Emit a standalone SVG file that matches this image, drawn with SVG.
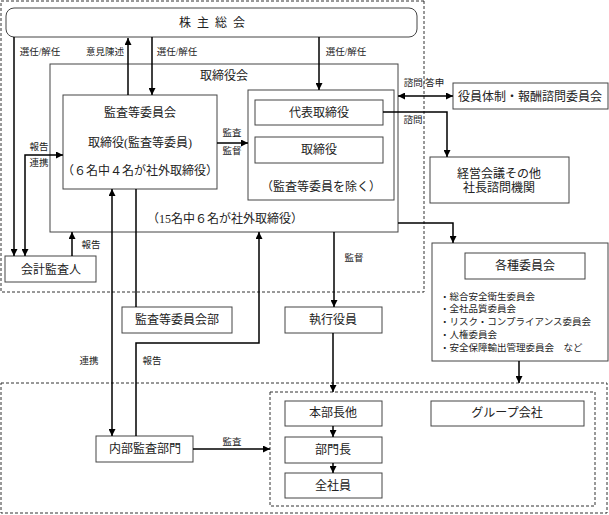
<svg xmlns="http://www.w3.org/2000/svg" width="609" height="515" viewBox="0 0 609 515">
<defs>
<style>
.box{fill:#fff;stroke:#444;stroke-width:1}
.frame{fill:none;stroke:#444;stroke-width:1}
.dash{fill:none;stroke:#333;stroke-width:1;stroke-dasharray:3 2}
.t{font-family:"Liberation Serif","Noto Sans CJK JP",serif;font-size:12px;fill:#222;text-anchor:middle;dominant-baseline:central}
.s{font-family:"Liberation Serif","Noto Sans CJK JP",serif;font-size:9.5px;fill:#222;text-anchor:middle;dominant-baseline:central}
.l{font-family:"Liberation Serif","Noto Sans CJK JP",serif;font-size:9.5px;fill:#222;dominant-baseline:central}
.c{fill:none;stroke:#000;stroke-width:1.5}
</style>
<marker id="a" viewBox="0 0 8 8" refX="8" refY="4" markerWidth="7" markerHeight="7" markerUnits="userSpaceOnUse" orient="auto-start-reverse">
<path d="M0,0 L8,4 L0,8 z" fill="#000"/>
</marker>
</defs>
<rect width="609" height="515" fill="#fff"/>

<!-- dashed frames -->
<path class="dash" d="M424,1 H1 V292 H424 Z"/>
<rect class="dash" x="1" y="383" width="606" height="130"/>
<rect class="dash" x="270" y="392" width="325" height="114"/>

<g id="shareholders">
<rect class="box" x="6" y="8" width="411" height="29" rx="8"/>
<text class="t" x="215" y="23" letter-spacing="6">株主総会</text>
</g>
<g id="board">
<rect class="frame" x="50" y="64" width="348" height="168"/>
<text class="t" x="224" y="76">取締役会</text>
<text class="t" x="225" y="219">（15名中６名が社外取締役）</text>
</g>
<g id="audit-committee">
<rect class="box" x="63" y="95" width="154" height="94"/>
<text class="t" x="140" y="113">監査等委員会</text>
<text class="t" x="140" y="143">取締役(監査等委員)</text>
<text class="t" x="140" y="171" font-size="11.5">（６名中４名が社外取締役）</text>
</g>
<g id="directors">
<rect class="box" x="248" y="90" width="146" height="110"/>
<text class="t" x="321" y="187">（監査等委員を除く）</text>
</g>
<g id="representative">
<rect class="box" x="255" y="100" width="128" height="25"/>
<text class="t" x="319" y="113">代表取締役</text>
</g>
<g id="director">
<rect class="box" x="255" y="137" width="128" height="26"/>
<text class="t" x="319" y="150">取締役</text>
</g>
<g id="nomination">
<rect class="box" x="453" y="83" width="155" height="26"/>
<text class="t" x="530" y="97">役員体制・報酬諮問委員会</text>
</g>
<g id="management">
<rect class="box" x="430" y="157" width="139" height="46"/>
<text class="t" x="499" y="174">経営会議その他</text>
<text class="t" x="499" y="188">社長諮問機関</text>
</g>
<g id="auditor">
<rect class="box" x="5" y="256" width="91" height="26"/>
<text class="t" x="51" y="270">会計監査人</text>
</g>
<g id="committees">
<rect class="box" x="432" y="243" width="176" height="118"/>
<rect class="box" x="465" y="253" width="120" height="26"/>
<text class="t" x="525" y="266">各種委員会</text>
<text class="l" x="440" y="297">・総合安全衛生委員会</text>
<text class="l" x="440" y="309">・全社品質委員会</text>
<text class="l" x="440" y="322">・リスク・コンプライアンス委員会</text>
<text class="l" x="440" y="335">・人権委員会</text>
<text class="l" x="440" y="348">・安全保障輸出管理委員会　など</text>
</g>
<g id="audit-office">
<rect class="box" x="122" y="307" width="110" height="26"/>
<text class="t" x="177" y="320">監査等委員会部</text>
</g>
<g id="officers">
<rect class="box" x="285" y="307" width="97" height="26"/>
<text class="t" x="333" y="320">執行役員</text>
</g>
<g id="internal-audit">
<rect class="box" x="96" y="436" width="97" height="26"/>
<text class="t" x="145" y="449">内部監査部門</text>
</g>
<g id="division-heads">
<rect class="box" x="285" y="401" width="97" height="25"/>
<text class="t" x="333" y="413">本部長他</text>
</g>
<g id="dept-heads">
<rect class="box" x="285" y="437" width="97" height="26"/>
<text class="t" x="333" y="450">部門長</text>
</g>
<g id="employees">
<rect class="box" x="285" y="473" width="97" height="25"/>
<text class="t" x="333" y="486">全社員</text>
</g>
<g id="group">
<rect class="box" x="431" y="401" width="153" height="25"/>
<text class="t" x="507" y="413">グループ会社</text>
</g>

<g id="connectors">
<path class="c" d="M14,37 V256" marker-end="url(#a)"/>
<path class="c" d="M128,95 V38" marker-end="url(#a)"/>
<path class="c" d="M152,37 V95" marker-end="url(#a)"/>
<path class="c" d="M319,37 V90" marker-end="url(#a)"/>
<path class="c" d="M25,256 V155 H63" marker-start="url(#a)" marker-end="url(#a)"/>
<path class="c" d="M72,256 V232" marker-end="url(#a)"/>
<path class="c" d="M217,143 H248" marker-end="url(#a)"/>
<path class="c" d="M398,96 H453" marker-start="url(#a)" marker-end="url(#a)"/>
<path class="c" d="M383,112 H447 V157" marker-end="url(#a)"/>
<path class="c" d="M398,223 H453 V243" marker-end="url(#a)"/>
<path class="c" d="M334,232 V307" marker-end="url(#a)"/>
<path class="c" d="M333,333 V392" marker-end="url(#a)"/>
<path class="c" d="M333,426 V437" marker-end="url(#a)"/>
<path class="c" d="M333,463 V473" marker-end="url(#a)"/>
<path class="c" d="M519,361 V383" marker-end="url(#a)"/>
<path class="c" d="M112,436 V189" marker-start="url(#a)" marker-end="url(#a)"/>
<path class="c" d="M136,189 V307"/>
<path class="c" d="M136,436 V343 H259 V232" marker-end="url(#a)"/>
<path class="c" d="M193,449 H270" marker-end="url(#a)"/>
<text class="s" x="40" y="52">選任/解任</text>
<text class="s" x="105" y="52">意見陳述</text>
<text class="s" x="177" y="52">選任/解任</text>
<text class="s" x="346" y="52">選任/解任</text>
<text class="s" x="39" y="147">報告</text>
<text class="s" x="39" y="163">連携</text>
<text class="s" x="91" y="245">報告</text>
<text class="s" x="232" y="133">監査</text>
<text class="s" x="232" y="151">監督</text>
<text class="s" x="424" y="83">諮問/答申</text>
<text class="s" x="413" y="120">諮問</text>
<text class="s" x="354" y="258">監督</text>
<text class="s" x="89" y="361">連携</text>
<text class="s" x="152" y="361">報告</text>
<text class="s" x="232" y="442">監査</text>
</g>
</svg>
